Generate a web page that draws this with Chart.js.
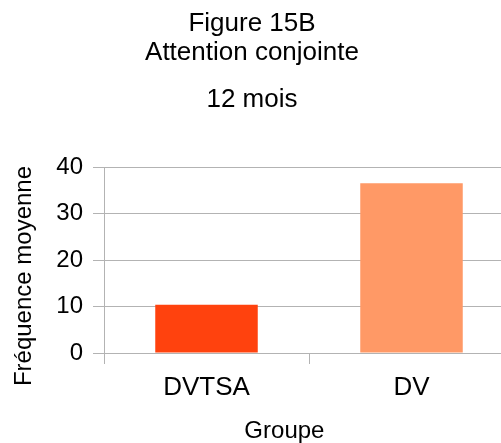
<!DOCTYPE html>
<html>
<head>
<meta charset="utf-8">
<script src="https://cdn.jsdelivr.net/npm/chart.js@4/dist/chart.umd.min.js"></script>
<style>
html, body { margin: 0; padding: 0; background: #ffffff; overflow: hidden; width: 501px; height: 443px; }
#wrap { position: relative; width: 501px; height: 443px; overflow: hidden; }
#c { position: absolute; left: -10px; top: 0; }
</style>
</head>
<body>
<div id="wrap"><canvas id="c" width="524" height="443"></canvas></div>
<script>
const titleLines = ['Figure 15B', 'Attention conjointe'];
const subtitleText = '12 mois';
const categories = ['DVTSA', 'DV'];
const values = [10.4, 36.5];
const barColors = ['#ff420e', '#ff9966'];
const yTicks = [0, 10, 20, 30, 40];
const xAxisTitle = 'Groupe';
const yAxisTitle = 'Fréquence moyenne';

const FONT = '"Liberation Sans", Arial, sans-serif';
const GRID = '#b3b3b3';
Chart.defaults.font.family = FONT;
Chart.defaults.color = '#000000';

const axisTitles = {
  id: 'axisTitles',
  afterDraw(chart) {
    const { ctx, chartArea } = chart;
    const w = chartArea.right - chartArea.left;
    const h = chartArea.bottom - chartArea.top;
    ctx.save();
    ctx.fillStyle = '#000000';
    ctx.font = '24px ' + FONT;
    ctx.textAlign = 'center';
    ctx.textBaseline = 'middle';
    ctx.fillText(xAxisTitle, chartArea.left + 0.44 * w, chartArea.bottom + 78);
    ctx.translate(chartArea.left - 80, chartArea.top + 0.586 * h);
    ctx.rotate(-Math.PI / 2);
    ctx.fillText(yAxisTitle, 0, 0);
    ctx.restore();
  }
};

new Chart(document.getElementById('c'), {
  type: 'bar',
  data: {
    labels: categories,
    datasets: [{
      data: values,
      backgroundColor: barColors,
      borderWidth: 0,
      barPercentage: 0.5,
      categoryPercentage: 1.0
    }]
  },
  options: {
    responsive: false,
    animation: false,
    devicePixelRatio: 1,
    layout: { padding: { left: 0, right: 0, top: 0, bottom: 0 } },
    plugins: {
      legend: { display: false },
      tooltip: { enabled: false },
      title: {
        display: true,
        text: titleLines,
        font: { size: 26, weight: 'normal', lineHeight: 1.12 },
        color: '#000000',
        padding: { top: 9.4, bottom: 0 }
      },
      subtitle: {
        display: true,
        text: subtitleText,
        font: { size: 26, weight: 'normal', lineHeight: 1.12 },
        color: '#000000',
        padding: { top: 17.8, bottom: 52.5 }
      }
    },
    scales: {
      x: {
        type: 'category',
        offset: true,
        grid: {
          offset: true,
          drawOnChartArea: false,
          drawTicks: true,
          tickLength: 11,
          color: GRID,
          tickColor: GRID
        },
        border: { display: true, color: GRID, width: 1 },
        ticks: { font: { size: 26, lineHeight: 1.2 }, color: '#000000', padding: 8.4, maxRotation: 0 },
        afterFit(scale) { scale.height = 90; }
      },
      y: {
        min: 0,
        max: 40,
        afterBuildTicks(scale) { scale.ticks = yTicks.map(v => ({ value: v })); },
        grid: {
          drawOnChartArea: true,
          drawTicks: true,
          tickLength: 11,
          color: GRID,
          tickColor: GRID
        },
        border: { display: true, color: GRID, width: 1 },
        ticks: { font: { size: 24 }, color: '#000000', padding: 10 },
        afterFit(scale) { scale.width = 114; }
      }
    }
  },
  plugins: [axisTitles]
});
</script>
</body>
</html>
